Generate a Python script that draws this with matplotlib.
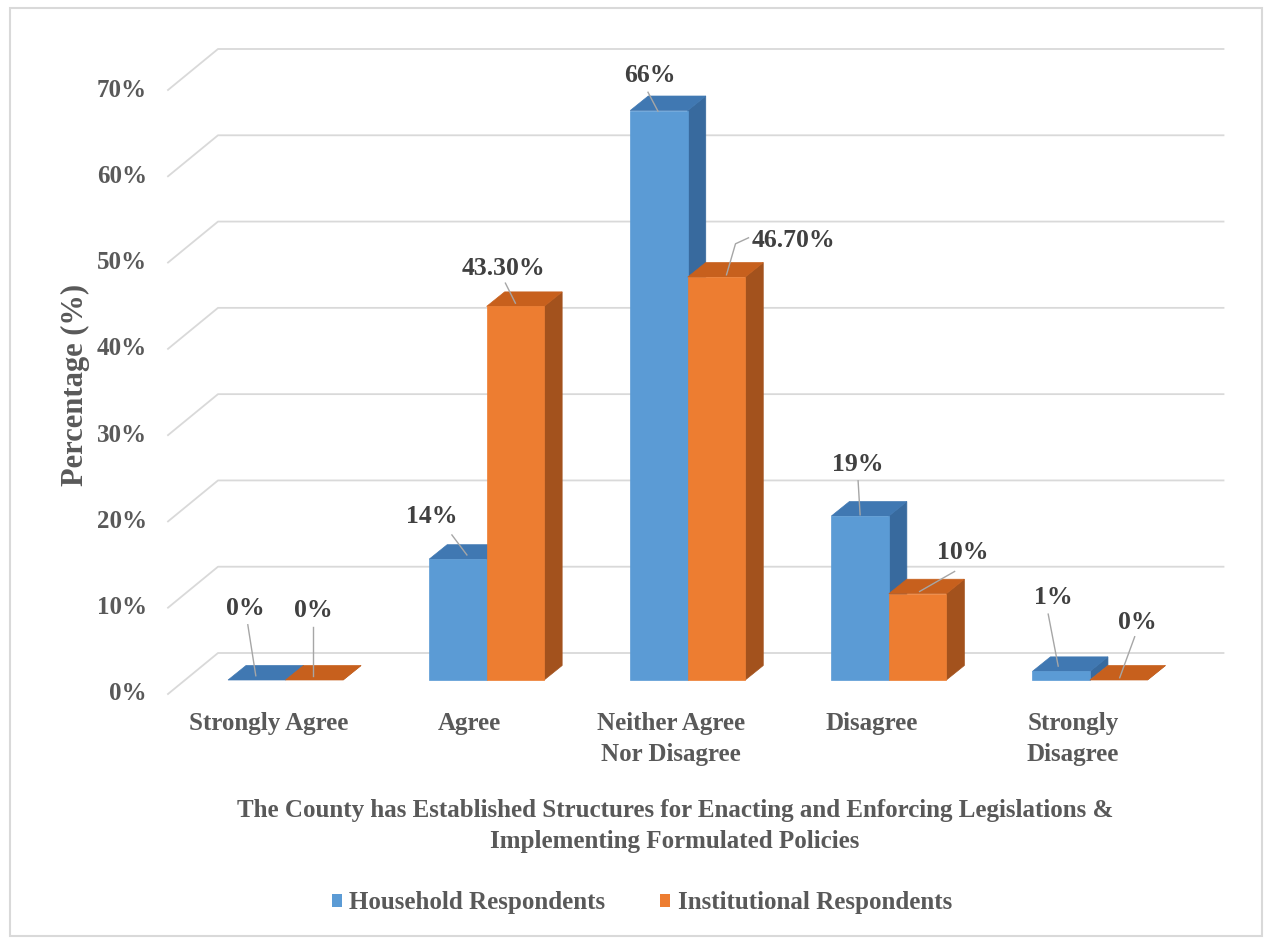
import matplotlib
matplotlib.use("Agg")
import matplotlib.pyplot as plt
from matplotlib.patches import Polygon, Rectangle, Patch
from matplotlib.lines import Line2D

# ---- data ----
categories = ["Strongly Agree", "Agree", "Neither Agree\nNor Disagree", "Disagree", "Strongly\nDisagree"]
household = [0, 14, 66, 19, 1]
institutional = [0, 43.3, 46.7, 10, 0]
household_labels = ["0%", "14%", "66%", "19%", "1%"]
institutional_labels = ["0%", "43.30%", "46.70%", "10%", "0%"]
y_ticks = [0, 10, 20, 30, 40, 50, 60, 70]
series_names = ["Household Respondents", "Institutional Respondents"]
x_title = ("The County has Established Structures for Enacting and Enforcing Legislations &\n"
           "Implementing Formulated Policies")
y_title = "Percentage (%)"

# ---- style ----
plt.rcParams["font.family"] = ["Liberation Serif", "DejaVu Serif"]
plt.rcParams["font.weight"] = "bold"
TEXT = "#595959"
LABEL = "#404040"
GRID = "#D9D9D9"
FACES = [
    dict(front="#5B9BD5", top="#4078B2", side="#386A9E"),
    dict(front="#ED7D31", top="#C7601D", side="#A3521D"),
]

W, H, DPI = 1265, 941, 100
fig = plt.figure(figsize=(W / DPI, H / DPI), dpi=DPI)
fig.patch.set_facecolor("white")

# plotting plane of the bar fronts (pixel geometry of the frame)
ax_left, ax_right, ax_bottom_img, ax_top_img = 185, 1190.5, 680, 76
ax = fig.add_axes([ax_left / W, (H - ax_bottom_img) / H,
                   (ax_right - ax_left) / W, (ax_bottom_img - ax_top_img) / H])
ax.set_xlim(-0.5, 4.5)
ax.set_ylim(0, 70)
ax.axis("off")

# conversion of pixel offsets (3-D depth) into data units
PX = 5.0 / (ax_right - ax_left)
PY = 70.0 / (ax_bottom_img - ax_top_img)


def pt(x, y, dx=0.0, dy=0.0):
    """data point shifted by a pixel offset (dy positive = up)"""
    return (x + dx * PX, y + dy * PY)


BACK = (33, 27)       # back wall relative to bar fronts
FLOOR = (-17, -14)    # front edge of the floor
DEPTH = (18, 14.5)    # bar depth
bar_w = 57.5 * PX

# gridlines on the back wall with the floor diagonal on the left
for v in y_ticks:
    xs, ys = zip(pt(-0.5, v, *FLOOR), pt(-0.5, v, *BACK), pt(4.5, v, *BACK))
    ax.add_line(Line2D(xs, ys, color=GRID, lw=1.3, clip_on=False, zorder=1))
    ax.text(*pt(-0.5, v, -38, -14), f"{v}%", ha="right", va="center",
            fontsize=18, color=TEXT, clip_on=False)


def draw_bar(x0, v, faces, z):
    x1 = x0 + bar_w
    dx, dy = DEPTH
    side = [pt(x1, 0), pt(x1, 0, dx, dy), pt(x1, v, dx, dy), pt(x1, v)]
    top = [pt(x0, v), pt(x1, v), pt(x1, v, dx, dy), pt(x0, v, dx, dy)]
    ax.add_patch(Polygon(side, closed=True, fc=faces["side"], ec=faces["side"], lw=0.5,
                         clip_on=False, zorder=z))
    ax.add_patch(Polygon(top, closed=True, fc=faces["top"], ec=faces["top"], lw=0.5,
                         clip_on=False, zorder=z))
    if v > 0:
        ax.add_patch(Rectangle((x0, 0), bar_w, v, fc=faces["front"], ec=faces["front"], lw=0.5,
                               clip_on=False, zorder=z))
    return (x0 + x1) / 2, v


# label placement: text offset and leader line (pixels, relative to top-face centre)
label_layout = [
    [((-20, 64), [(-18, 48), (-10, -3)]), ((-10, 62), [(-10, 46), (-10, -3)])],
    [((-35, 35), [(-15, 17), (0, -3)]), ((-21, 31), [(-19, 16), (-9, -4)])],
    [((-18, 28), [(-20, 11), (-10, -8)]), ((68, 29), [(23, 32), (10, 26), (1, -5)])],
    [((-11, 44), [(-11, 28), (-9, -6)]), ((36, 34), [(28, 15), (-7, -5)])],
    [((-17, 67), [(-22, 50), (-12, -2)]), ((10, 50), [(7, 36), (-8, -5)])],
]

values = [household, institutional]
texts = [household_labels, institutional_labels]
for i in range(len(categories)):
    for s in range(2):
        x0 = i - bar_w if s == 0 else i
        cx, v = draw_bar(x0, values[s][i], FACES[s], 3 + 2 * i + s)
        ax_, ay_ = DEPTH[0] / 2, DEPTH[1] / 2
        (tx, ty), leader = label_layout[i][s]
        ax.text(*pt(cx, v, ax_ + tx, ay_ + ty), texts[s][i], ha="center", va="center",
                fontsize=18.5, color=LABEL, clip_on=False, zorder=20)
        lx = [pt(cx, v, ax_ + a, ay_ + b)[0] for a, b in leader]
        ly = [pt(cx, v, ax_ + a, ay_ + b)[1] for a, b in leader]
        ax.add_line(Line2D(lx, ly, color="#A6A6A6", lw=1.0, clip_on=False, zorder=19))
    ax.text(*pt(i, 0, -17, -32), categories[i], ha="center", va="top",
            fontsize=18, color=TEXT, linespacing=1.45, clip_on=False)

# axis titles
fig.text(75 / W, 1 - 385 / H, y_title, rotation=90, ha="center", va="center",
         fontsize=22, color=TEXT)
fig.text(675 / W, 1 - 826 / H, x_title, ha="center", va="center",
         fontsize=18, color=TEXT, linespacing=1.45)

# legend
handles = [Patch(fc=FACES[0]["front"], ec="none"), Patch(fc=FACES[1]["front"], ec="none")]
fig.legend(handles, series_names, loc="center", bbox_to_anchor=(642 / W, 1 - 903 / H),
           ncol=2, frameon=False, handlelength=0.4, handleheight=0.4,
           handletextpad=0.3, columnspacing=2.2,
           prop=dict(family="Liberation Serif", weight="bold", size=18),
           labelcolor=TEXT)

# chart frame
fig.add_artist(Rectangle((10 / W, 1 - 936 / H), (1262 - 10) / W, (936 - 8) / H,
                         transform=fig.transFigure, fill=False, ec="#D9D9D9", lw=1.5))

fig.savefig("out.png", dpi=DPI, facecolor="white")
